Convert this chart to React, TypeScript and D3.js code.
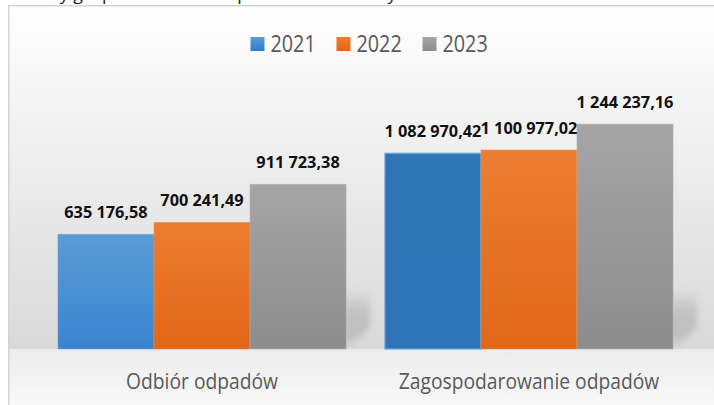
import React from "react";
import * as d3 from "d3";

const categories = ["Odbiór odpadów", "Zagospodarowanie odpadów"];
const seriesNames = ["2021", "2022", "2023"];
const values2021 = [635176.58, 1082970.42];
const values2022 = [700241.49, 1100977.02];
const values2023 = [911723.38, 1244237.16];
const titleText = "Koszty gospodarowania odpadami komunalnymi w latach 2021–2023";

const W = 714;
const H = 405;
const plotLeft = 38.5;
const plotRight = 692.5;
const plotTop = 96;
const plotBottom = 349;
const COND = 0.86;

const plLocale = d3.formatLocale({ decimal: ",", thousands: " ", grouping: [3], currency: ["", " zł"] });
const fmt = plLocale.format(",.2f");

const seriesValues = [values2021, values2022, values2023];

export default function App() {
  const x0 = d3.scaleBand<string>().domain(categories).range([plotLeft, plotRight]).paddingInner(0.119).paddingOuter(0.0596);
  const x1 = d3.scaleBand<string>().domain(seriesNames).range([0, x0.bandwidth()]).padding(0);
  const y = d3.scaleLinear().domain([0, 1400000]).range([plotBottom, plotTop]);

  const fillId = (si: number, ci: number) => `bar-${si}-${ci}`;
  const gradColors: Record<string, [string, string]> = {
    "0-0": ["#5b9bd5", "#3a84d0"],
    "0-1": ["#2f75b6", "#2e74b6"],
    "1-0": ["#ed7d31", "#e06717"],
    "1-1": ["#ed7d31", "#e06717"],
    "2-0": ["#a5a5a5", "#8c8c8c"],
    "2-1": ["#a5a5a5", "#8c8c8c"],
  };
  const strokeColors = ["#6aa6dc", "#f08a45", "#b0b0b0"];
  const legendColors: [string, string][] = [["#5b9bd5", "#2e7bcf"], ["#ed7d31", "#e06717"], ["#a5a5a5", "#8c8c8c"]];

  const legendSq = 14, legendGap = 6, legendTextW = 46, legendItemGap = 20;
  const itemW = legendSq + legendGap + legendTextW;
  const legendTotal = seriesNames.length * itemW + (seriesNames.length - 1) * legendItemGap;
  const legendStart = 369.5 - legendTotal / 2;

  return (
    <svg width={W} height={H} style={{ position: "absolute", left: 0, top: 0, display: "block" }} xmlns="http://www.w3.org/2000/svg">
      <defs>
        <linearGradient id="bgTop" x1="0" y1="0" x2="0" y2="1">
          <stop offset="0" stopColor="#ffffff" />
          <stop offset="1" stopColor="#d9d9d9" />
        </linearGradient>
        <linearGradient id="bgBottom" x1="0" y1="0" x2="0" y2="1">
          <stop offset="0" stopColor="#ececec" />
          <stop offset="1" stopColor="#fbfbfb" />
        </linearGradient>
        <linearGradient id="shadowGrad" x1="0" y1="0" x2="0" y2="1">
          <stop offset="0" stopColor="#000" stopOpacity="0" />
          <stop offset="0.4" stopColor="#000" stopOpacity="0.12" />
          <stop offset="0.8" stopColor="#000" stopOpacity="0.13" />
          <stop offset="1" stopColor="#000" stopOpacity="0.02" />
        </linearGradient>
        <linearGradient id="shadowFadeX" x1="0" y1="0" x2="1" y2="0">
          <stop offset="0" stopColor="#fff" stopOpacity="1" />
          <stop offset="0.6" stopColor="#fff" stopOpacity="0.8" />
          <stop offset="1" stopColor="#fff" stopOpacity="0" />
        </linearGradient>
        <filter id="blur" x="-50%" y="-50%" width="200%" height="200%">
          <feGaussianBlur stdDeviation="3" />
        </filter>
        {Object.entries(gradColors).map(([k, c]) => {
          const [si, ci] = k.split("-").map(Number);
          return (
            <linearGradient key={k} id={fillId(si, ci)} x1="0" y1="0" x2="0" y2="1">
              <stop offset="0" stopColor={c[0]} />
              <stop offset="1" stopColor={c[1]} />
            </linearGradient>
          );
        })}
        {legendColors.map((c, i) => (
          <linearGradient key={i} id={`leg-${i}`} x1="0" y1="0" x2="0" y2="1">
            <stop offset="0" stopColor={c[0]} />
            <stop offset="1" stopColor={c[1]} />
          </linearGradient>
        ))}
      </defs>

      {/* title, cut off at the top edge as in the reference */}
      <text x={15} y={0} fontFamily="'Open Sans', sans-serif" fontSize={17} fill="#222" textLength={570} lengthAdjust="spacingAndGlyphs">
        {titleText}
      </text>

      {/* chart area */}
      <rect x={8} y={5} width={720} height={plotBottom - 5} fill="url(#bgTop)" />
      <rect x={8} y={plotBottom} width={720} height={H - plotBottom + 10} fill="url(#bgBottom)" />
      <rect x={8.75} y={5.75} width={720} height={420} fill="none" stroke="#d4d4d4" strokeWidth={1.5} />

      {/* legend */}
      {seriesNames.map((s, i) => {
        const lx = legendStart + i * (itemW + legendItemGap);
        return (
          <g key={s}>
            <rect x={lx} y={37} width={legendSq} height={legendSq} fill={`url(#leg-${i})`} />
            <g transform={`translate(${lx + legendSq + legendGap},52) scale(${COND},1)`}>
              <text x={0} y={0} fontFamily="'Open Sans', sans-serif" fontSize={23} fill="#595959">{s}</text>
            </g>
          </g>
        );
      })}

      {/* soft shadows to the right of each group */}
      {categories.map((c) => {
        const right = (x0(c) ?? 0) + x0.bandwidth();
        return (
          <g key={`sh-${c}`} filter="url(#blur)">
            <polygon
              points={`${right - 4},${plotBottom - 2} ${right - 4},${plotBottom - 60} ${right + 24},${plotBottom - 60} ${right + 24},${plotBottom - 22} ${right + 4},${plotBottom - 2}`}
              fill="url(#shadowGrad)"
            />
          </g>
        );
      })}

      {/* bars */}
      {categories.map((c, ci) => (
        <g key={c} transform={`translate(${x0(c)},0)`}>
          {seriesNames.map((s, si) => {
            const v = seriesValues[si][ci];
            const bx = x1(s) ?? 0;
            return (
              <rect
                key={s}
                x={bx}
                y={y(v)}
                width={x1.bandwidth()}
                height={plotBottom - y(v)}
                fill={`url(#${fillId(si, ci)})`}
                stroke={strokeColors[si]}
                strokeWidth={si === 0 && ci === 1 ? 1.2 : 0.6}
              />
            );
          })}
        </g>
      ))}

      {/* data labels */}
      {categories.map((c, ci) => (
        <g key={`lab-${c}`}>
          {seriesNames.map((s, si) => {
            const v = seriesValues[si][ci];
            const cx = (x0(c) ?? 0) + (x1(s) ?? 0) + x1.bandwidth() / 2;
            return (
              <text key={s} x={cx} y={y(v) - 16} textAnchor="middle" fontFamily="'Open Sans', sans-serif" fontWeight={700} fontSize={16.3} fill="#111">
                {fmt(v)}
              </text>
            );
          })}
        </g>
      ))}

      {/* category labels */}
      {categories.map((c) => {
        const cx = (x0(c) ?? 0) + x0.bandwidth() / 2;
        return (
          <g key={`cat-${c}`} transform={`translate(${cx},389) scale(${COND},1)`}>
            <text x={0} y={0} textAnchor="middle" fontFamily="'Open Sans', sans-serif" fontSize={22.4} fill="#595959">{c}</text>
          </g>
        );
      })}
    </svg>
  );
}
